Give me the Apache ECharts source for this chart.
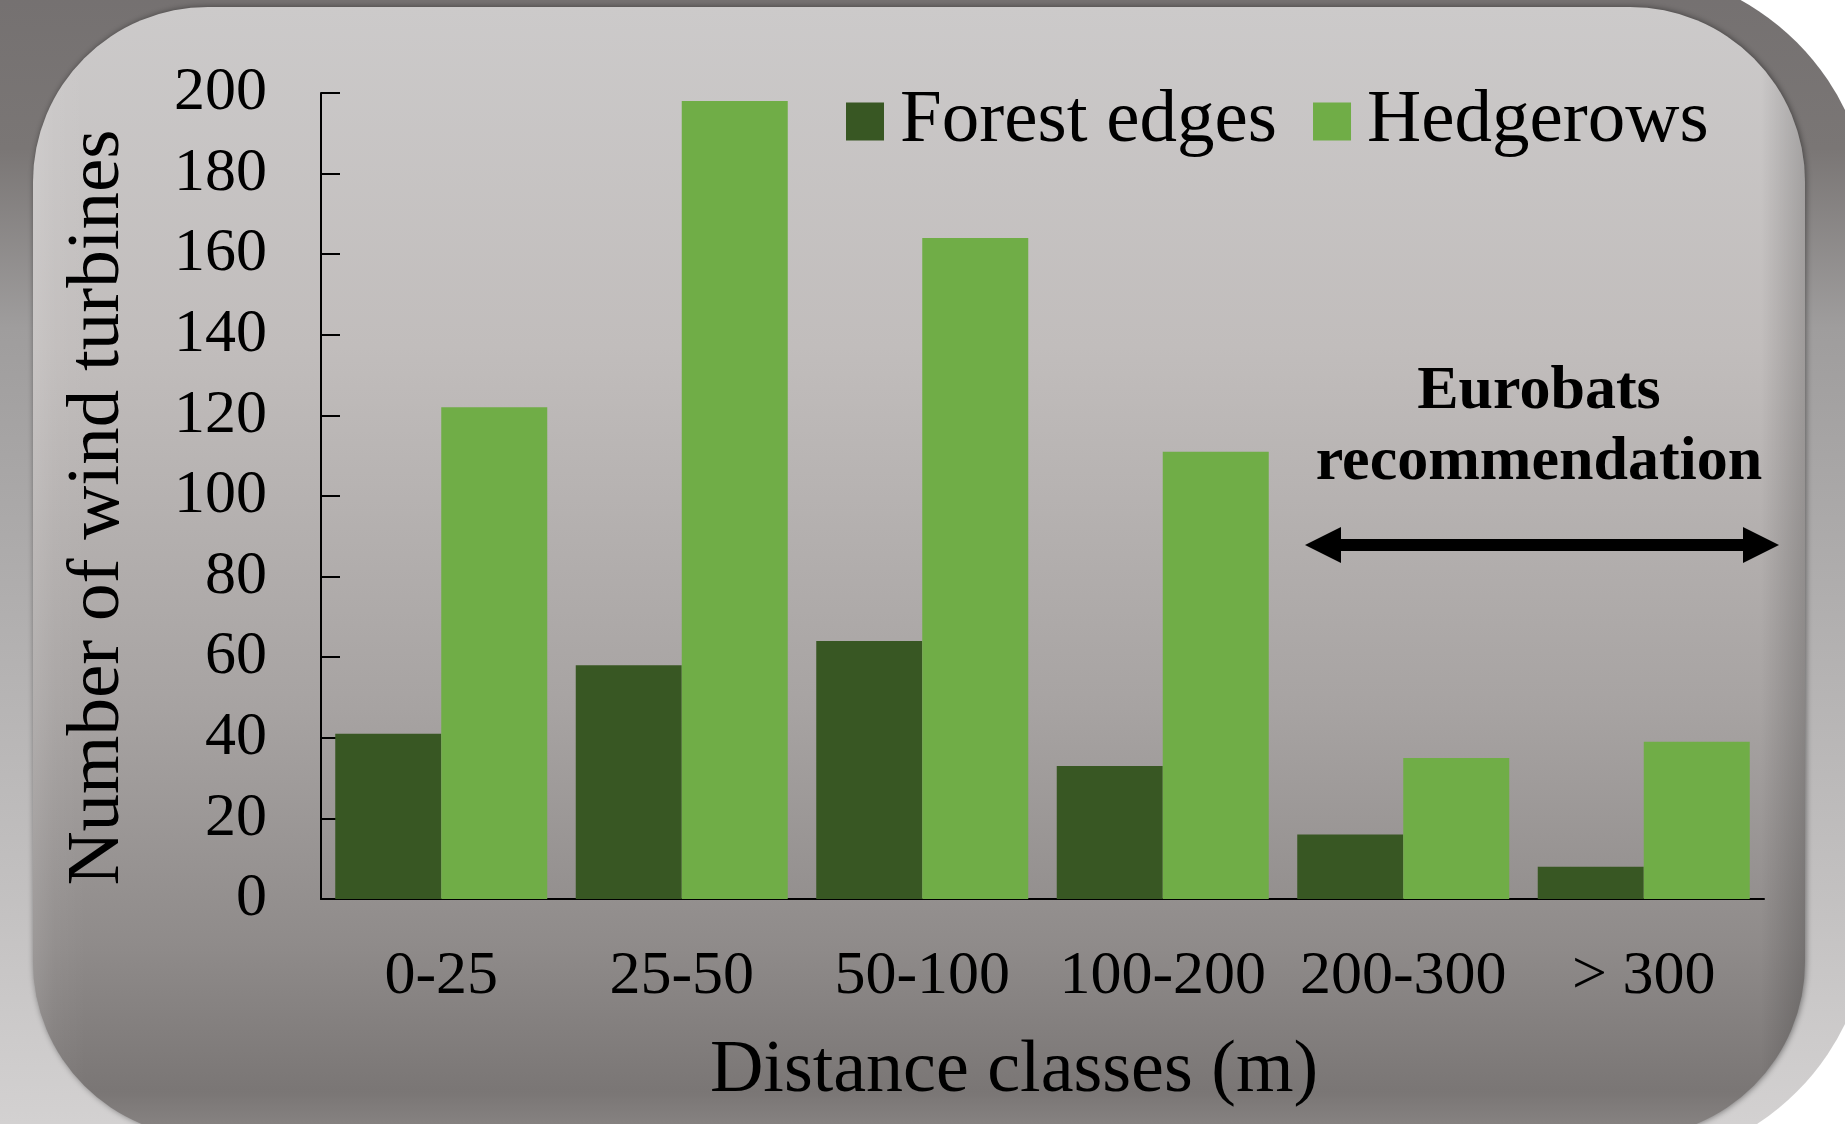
<!DOCTYPE html>
<html>
<head>
<meta charset="utf-8">
<script src="https://cdn.jsdelivr.net/npm/echarts@6/dist/echarts.min.js"></script>
<style>
html,body{margin:0;padding:0;background:#ffffff;}
#c{width:1845px;height:1124px;}
</style>
</head>
<body>
<div id="c"></div>
<script>
// ---- data ----
const categories = ['0-25', '25-50', '50-100', '100-200', '200-300', '> 300'];
const forestEdges = [41, 58, 64, 33, 16, 8];
const hedgerows = [122, 198, 164, 111, 35, 39];
const seriesNames = ['Forest edges', 'Hedgerows'];
const yMin = 0, yMax = 200, yInterval = 20;
const xTitle = 'Distance classes (m)';
const yTitle = 'Number of wind turbines';
const noteText = 'Eurobats\nrecommendation';

// ---- style ----
const FONT = "'Liberation Serif', 'Times New Roman', serif";
const chart = echarts.init(document.getElementById('c'), null, {renderer: 'canvas'});
const LG = echarts.graphic.LinearGradient;

const option = {
  animation: false,
  backgroundColor: '#ffffff',
  textStyle: {fontFamily: FONT, color: '#000'},
  grid: {left: 321, right: 81, top: 93, bottom: 225, containLabel: false, outerBoundsMode: 'none'},
  legend: {
    left: 841, top: 79,
    itemWidth: 38, itemHeight: 38, itemGap: 36,
    icon: 'rect',
    selectedMode: false,
    textStyle: {fontFamily: FONT, fontSize: 75, lineHeight: 75, color: '#000', padding: [0, 0, 0, 11]},
    data: seriesNames
  },
  xAxis: {
    type: 'category',
    data: categories,
    axisLine: {show: true, lineStyle: {color: '#000', width: 2}},
    axisTick: {show: false},
    axisLabel: {fontFamily: FONT, fontSize: 62, lineHeight: 62, color: '#000', margin: 47, interval: 0},
    splitLine: {show: false},
    name: xTitle,
    nameLocation: 'middle',
    nameGap: 136,
    nameTextStyle: {fontFamily: FONT, fontSize: 74, lineHeight: 74, color: '#000', padding: [0, 57, 0, 0]}
  },
  yAxis: {
    type: 'value',
    min: yMin, max: yMax, interval: yInterval,
    axisLine: {show: true, lineStyle: {color: '#000', width: 2}},
    axisTick: {show: true, inside: true, length: 19, lineStyle: {color: '#000', width: 2}},
    axisLabel: {fontFamily: FONT, fontSize: 62, lineHeight: 62, color: '#000', margin: 54},
    splitLine: {show: false},
    name: yTitle,
    nameLocation: 'middle',
    nameRotate: 90,
    nameGap: 185,
    nameTextStyle: {fontFamily: FONT, fontSize: 75, lineHeight: 75, color: '#000', padding: [0, 23, 0, 0]}
  },
  series: [
    {name: seriesNames[0], type: 'bar', data: forestEdges, barWidth: 106, barGap: '0%', itemStyle: {color: '#385723'}, z: 5},
    {name: seriesNames[1], type: 'bar', data: hedgerows, barWidth: 106, barGap: '0%', itemStyle: {color: '#70ad47'}, z: 5}
  ],
  graphic: [
    // outer bevel frame
    {type: 'rect', z: -100, silent: true,
     shape: {x: -200, y: -31, width: 2070, height: 1196, r: 250},
     style: {fill: new LG(0, 0, 0, 1, [
       {offset: 0, color: '#747070'},
       {offset: 0.15, color: '#7a7675'},
       {offset: 0.3, color: '#9f9d9d'},
       {offset: 0.78, color: '#c3c1c1'},
       {offset: 1, color: '#d6d4d4'}])}},
    // inner panel
    {type: 'rect', z: -90, silent: true,
     shape: {x: 33, y: 7, width: 1772, height: 1130, r: 175},
     style: {fill: new LG(0, 0, 0, 1, [
       {offset: 0, color: '#cccaca'},
       {offset: 0.3, color: '#c1bdbc'},
       {offset: 0.62, color: '#a7a3a2'},
       {offset: 0.83, color: '#8f8b8a'},
       {offset: 0.96, color: '#7a7675'},
       {offset: 1, color: '#8a8685'}]),
       shadowColor: 'rgba(0,0,0,0.45)', shadowBlur: 6, shadowOffsetX: 1, shadowOffsetY: 0}},
    // edge shading overlay
    {type: 'rect', z: -80, silent: true,
     shape: {x: 33, y: 7, width: 1772, height: 1130, r: 175},
     style: {fill: new LG(0, 0, 1, 0, [
       {offset: 0, color: 'rgba(255,255,255,0.12)'},
       {offset: 0.012, color: 'rgba(255,255,255,0.04)'},
       {offset: 0.03, color: 'rgba(255,255,255,0)'},
       {offset: 0.975, color: 'rgba(0,0,0,0)'},
       {offset: 1, color: 'rgba(0,0,0,0.18)'}])}},
    // annotation text
    {type: 'text', z: 100, silent: true, x: 1539, y: 356,
     style: {text: noteText, font: 'bold 62px ' + FONT, lineHeight: 71, fill: '#000', align: 'center', verticalAlign: 'top'}},
    // double arrow
    {type: 'rect', z: 100, silent: true, shape: {x: 1335, y: 539, width: 415, height: 12}, style: {fill: '#000'}},
    {type: 'polygon', z: 100, silent: true, shape: {points: [[1305, 545], [1341, 527], [1341, 563]]}, style: {fill: '#000'}},
    {type: 'polygon', z: 100, silent: true, shape: {points: [[1779, 545], [1743, 527], [1743, 563]]}, style: {fill: '#000'}}
  ]
};
chart.setOption(option);
</script>
</body>
</html>
